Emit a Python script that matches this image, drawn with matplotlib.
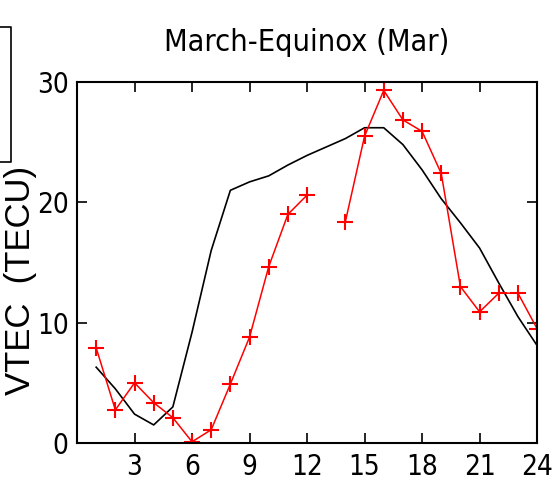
import numpy as np
import matplotlib
matplotlib.use('Agg')
import matplotlib.pyplot as plt
from matplotlib.lines import Line2D
from matplotlib import font_manager

# hourly values (LT)
hours = np.arange(1, 25)
vtec_obs = [7.9, 2.75, 5.0, 3.35, 2.1, 0.1, 1.1, 4.9, 8.8, 14.65, 19.0, 20.6,
            np.nan, 18.4, 25.5, 29.3, 26.85, 25.9, 22.4, 13.0, 10.9, 12.45, 12.45, 9.5]
vtec_model = [6.3, 4.5, 2.4, 1.5, 3.0, 9.2, 16.0, 21.0, 21.7, 22.2, 23.1, 23.9,
              24.6, 25.3, 26.2, 26.2, 24.8, 22.7, 20.3, 18.3, 16.2, 13.3, 10.5, 8.1]
xticks = [3, 6, 9, 12, 15, 18, 21, 24]
yticks = [0, 10, 20, 30]

names = {f.name for f in font_manager.fontManager.ttflist}
if 'Liberation Sans Narrow' in names:
    narrow = dict(family='Liberation Sans Narrow')
else:
    narrow = dict(family='DejaVu Sans', stretch='condensed')

fig = plt.figure(figsize=(5.56, 5.01), dpi=100)
ax = fig.add_axes([0.1385, 0.1158, 0.8275, 0.7205])

ax.plot(hours, vtec_model, color='black', lw=1.2)
ax.plot(hours, vtec_obs, color='red', lw=1.1, marker='+', markersize=12, mew=1.5)

ax.set_xlim(0, 24)
ax.set_ylim(0, 30)
ax.set_xticks(xticks)
ax.set_yticks(yticks)
ax.tick_params(direction='in', length=7, width=1.2, top=True, right=True, pad=7)
ax.tick_params(axis='y', pad=6)
for lab in ax.get_xticklabels() + ax.get_yticklabels():
    lab.set_fontproperties(font_manager.FontProperties(size=20, **narrow))
for s in ax.spines.values():
    s.set_linewidth(1.5)

ax.set_title('March-Equinox (Mar)', fontsize=22, pad=22, **narrow)
fig.text(0.036, 0.441, 'VTEC  (TECU)', rotation=90, ha='center', va='center',
         family=['Liberation Sans', 'DejaVu Sans'], fontsize=25)

# edge of the neighbouring legend box, cut off at the left
fig.add_artist(Line2D([0, 11 / 556, 11 / 556, 0], [1 - 27 / 501, 1 - 27 / 501, 1 - 162 / 501, 1 - 162 / 501],
                      transform=fig.transFigure, color='black', lw=1.2))

fig.savefig('out.png', dpi=100)
